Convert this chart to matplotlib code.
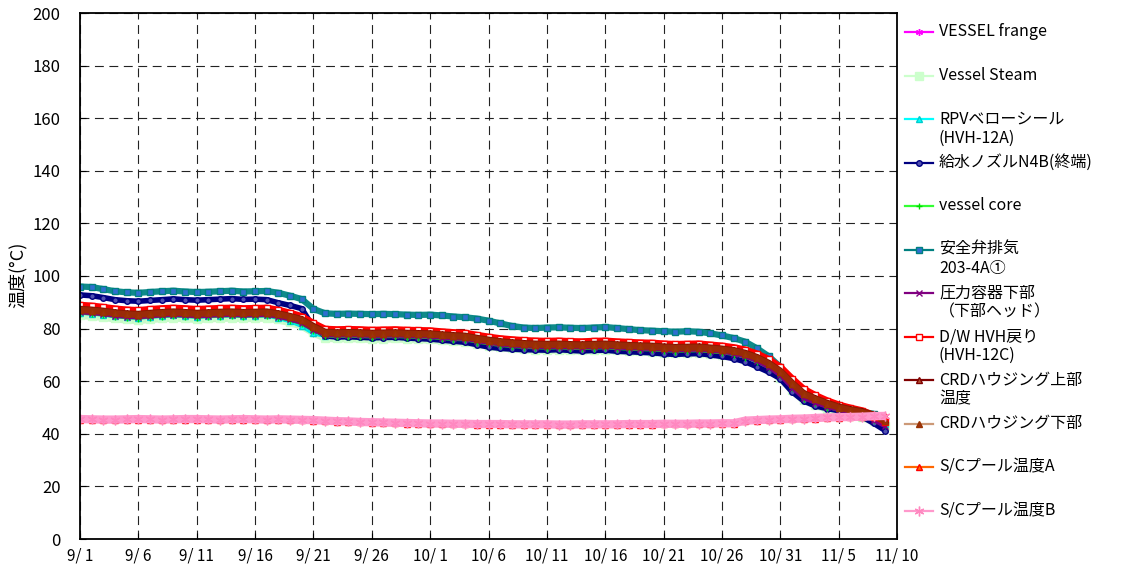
import numpy as np
import matplotlib
matplotlib.use('Agg')
import matplotlib.pyplot as plt
from matplotlib.lines import Line2D

plt.rcParams['font.family'] = ['Noto Sans CJK JP', 'DejaVu Sans']

# 9/1 = day 0, daily readings
x_tick_pos = [0, 5, 10, 15, 20, 25, 30, 35, 40, 45, 50, 55, 60, 65, 70]
x_tick_labels = ['9/ 1', '9/ 6', '9/ 11', '9/ 16', '9/ 21', '9/ 26', '10/ 1', '10/ 6',
                 '10/ 11', '10/ 16', '10/ 21', '10/ 26', '10/ 31', '11/ 5', '11/ 10']
y_ticks = [0, 20, 40, 60, 80, 100, 120, 140, 160, 180, 200]

labels = ['VESSEL frange', 'Vessel Steam', 'RPVベローシール\n(HVH-12A)', '給水ノズルN4B(終端)',
          'vessel core', '安全弁排気\n203-4A①', '圧力容器下部\n（下部ヘッド）', 'D/W HVH戻り\n(HVH-12C)',
          'CRDハウジング上部\n温度', 'CRDハウジング下部', 'S/Cプール温度A', 'S/Cプール温度B']

vessel_frange = [86.7, 86.4, 86.0, 85.4, 85.0, 84.8, 85.2, 85.5, 85.7, 85.5,
                 85.2, 85.4, 85.6, 85.7, 85.5, 85.6, 85.7, 85.0, 84.0, 82.8,
                 80.2, 78.0, 77.8, 77.9, 77.8, 77.6, 77.7, 77.8, 77.6, 77.5,
                 77.4, 77.0, 76.7, 76.5, 75.7, 75.0, 74.4, 74.0, 73.7, 73.5,
                 73.4, 73.5, 73.3, 73.2, 73.4, 73.5, 73.2, 73.0, 72.8, 72.7,
                 72.4, 72.2, 72.3, 72.4, 72.0, 71.6, 71.0, 70.0, 68.4, 66.2,
                 63.2, 58.7, 54.7, 52.7, 51.0, 49.6, 48.6, 47.8, 46.4, 44.4]
vessel_steam = [85.2, 84.9, 84.5, 83.9, 83.5, 83.3, 83.7, 84.0, 84.2, 84.0,
                83.7, 83.9, 84.1, 84.2, 84.0, 84.1, 84.2, 83.5, 82.5, 81.2,
                78.6, 76.6, 76.3, 76.4, 76.3, 76.1, 76.2, 76.3, 76.1, 76.0,
                75.9, 75.5, 75.2, 75.0, 74.2, 73.5, 72.9, 72.5, 72.2, 72.0,
                71.9, 72.0, 71.8, 71.7, 71.9, 72.0, 71.7, 71.5, 71.3, 71.2,
                70.9, 70.7, 70.8, 70.9, 70.5, 70.1, 69.5, 68.5, 66.8, 64.5,
                61.4, 56.8, 52.9, 51.1, 49.6, 48.3, 47.4, 46.4, 44.9, 42.9]
rpv_seal = [86.0, 85.7, 85.3, 84.7, 84.3, 84.1, 84.5, 84.8, 85.0, 84.8,
            84.5, 84.7, 84.9, 85.0, 84.8, 84.9, 85.0, 84.0, 82.8, 81.0,
            78.2, 77.2, 77.1, 77.2, 77.1, 76.9, 77.0, 77.1, 76.9, 76.8,
            76.7, 76.3, 76.0, 75.8, 75.0, 74.3, 73.7, 73.3, 73.0, 72.8,
            72.7, 72.8, 72.6, 72.5, 72.7, 72.8, 72.5, 72.3, 72.1, 72.0,
            71.7, 71.5, 71.6, 71.7, 71.3, 70.9, 70.3, 69.3, 67.6, 65.3,
            62.2, 57.8, 53.9, 52.0, 50.5, 49.3, 48.4, 47.4, 45.8, 43.6]
n4b_nozzle = [92.8, 92.5, 91.8, 91.0, 90.6, 90.4, 90.7, 91.0, 91.3, 91.0,
              90.8, 91.0, 91.2, 91.4, 91.1, 91.2, 91.0, 89.8, 88.8, 87.6,
              80.5, 77.2, 76.8, 76.9, 76.7, 76.5, 76.6, 76.7, 76.4, 76.2,
              76.0, 75.6, 75.2, 74.8, 73.9, 73.0, 72.5, 72.2, 72.0, 71.9,
              71.8, 72.0, 71.7, 71.5, 71.7, 71.8, 71.4, 71.2, 71.0, 70.8,
              70.4, 70.2, 70.4, 70.5, 70.0, 69.4, 68.6, 67.4, 65.5, 63.5,
              61.0, 56.0, 52.5, 50.6, 49.6, 48.8, 48.2, 46.5, 44.0, 41.2]
vessel_core = [85.7, 85.4, 85.0, 84.4, 84.0, 83.8, 84.2, 84.5, 84.7, 84.5,
               84.2, 84.4, 84.6, 84.7, 84.5, 84.6, 84.7, 84.0, 83.0, 81.6,
               79.0, 77.0, 76.8, 76.9, 76.8, 76.6, 76.7, 76.8, 76.6, 76.5,
               76.4, 76.0, 75.7, 75.5, 74.7, 74.0, 73.4, 73.0, 72.7, 72.5,
               72.4, 72.5, 72.3, 72.2, 72.4, 72.5, 72.2, 72.0, 71.8, 71.7,
               71.4, 71.2, 71.3, 71.4, 71.0, 70.6, 70.0, 69.0, 67.3, 65.0,
               61.9, 57.3, 53.4, 51.6, 50.0, 48.7, 47.8, 46.8, 45.3, 43.2]
safety_valve = [96.0, 95.8, 95.0, 94.2, 93.8, 93.6, 93.9, 94.2, 94.4, 94.1,
                93.9, 94.0, 94.2, 94.4, 94.1, 94.2, 94.3, 93.6, 92.5, 91.2,
                87.5, 85.8, 85.6, 85.7, 85.6, 85.5, 85.6, 85.5, 85.3, 85.2,
                85.3, 85.0, 84.6, 84.3, 83.8, 83.0, 82.0, 81.0, 80.4, 80.2,
                80.4, 80.5, 80.3, 80.2, 80.4, 80.6, 80.2, 79.8, 79.4, 79.2,
                79.0, 78.8, 79.0, 78.8, 78.2, 77.4, 76.4, 75.0, 72.5, 69.5,
                65.5, 60.0, 56.5, 54.0, 52.0, 50.4, 49.3, 48.4, 47.6]
pv_lower = [86.2, 85.9, 85.5, 84.9, 84.5, 84.3, 84.7, 85.0, 85.2, 85.0,
            84.7, 84.9, 85.1, 85.2, 85.0, 85.1, 85.2, 84.5, 83.5, 82.2,
            79.6, 77.6, 77.4, 77.5, 77.4, 77.2, 77.3, 77.4, 77.2, 77.1,
            77.0, 76.6, 76.3, 76.1, 75.3, 74.6, 74.0, 73.6, 73.3, 73.1,
            73.0, 73.1, 72.9, 72.8, 73.0, 73.1, 72.8, 72.6, 72.4, 72.3,
            72.0, 71.8, 71.9, 72.0, 71.6, 71.2, 70.5, 69.4, 67.7, 65.3,
            62.2, 57.6, 53.6, 51.8, 50.3, 49.1, 48.2, 47.0, 45.2, 42.8]
dw_hvh = [88.9, 88.6, 88.1, 87.5, 87.1, 86.9, 87.3, 87.6, 87.8, 87.6,
          87.3, 87.5, 87.7, 87.8, 87.6, 87.7, 87.8, 87.0, 85.9, 84.6,
          82.0, 79.8, 79.6, 79.7, 79.6, 79.4, 79.5, 79.6, 79.4, 79.3,
          79.2, 78.8, 78.5, 78.3, 77.5, 76.8, 76.2, 75.8, 75.5, 75.3,
          75.2, 75.3, 75.1, 75.0, 75.2, 75.3, 75.0, 74.8, 74.6, 74.5,
          74.2, 74.0, 74.1, 74.2, 73.8, 73.4, 72.8, 71.9, 70.4, 68.3,
          65.4, 61.0, 57.0, 54.6, 52.6, 51.0, 49.8, 48.8, 47.0, 44.6]
crd_upper = [87.5, 87.2, 86.8, 86.2, 85.8, 85.6, 86.0, 86.3, 86.5, 86.3,
             86.0, 86.2, 86.4, 86.5, 86.3, 86.4, 86.5, 85.8, 84.8, 83.6,
             81.0, 78.8, 78.6, 78.7, 78.6, 78.4, 78.5, 78.6, 78.4, 78.3,
             78.2, 77.8, 77.5, 77.3, 76.5, 75.8, 75.2, 74.8, 74.5, 74.3,
             74.2, 74.3, 74.1, 74.0, 74.2, 74.3, 74.0, 73.8, 73.6, 73.5,
             73.2, 73.0, 73.1, 73.2, 72.8, 72.4, 71.8, 70.8, 69.2, 67.0,
             64.0, 59.5, 55.5, 53.5, 51.8, 50.4, 49.4, 48.6, 47.2, 45.2]
crd_lower = [87.1, 86.8, 86.4, 85.8, 85.4, 85.2, 85.6, 85.9, 86.1, 85.9,
             85.6, 85.8, 86.0, 86.1, 85.9, 86.0, 86.1, 85.4, 84.4, 83.2,
             80.5, 78.4, 78.2, 78.3, 78.2, 78.0, 78.1, 78.2, 78.0, 77.9,
             77.8, 77.4, 77.1, 76.9, 76.1, 75.4, 74.8, 74.4, 74.1, 73.9,
             73.8, 73.9, 73.7, 73.6, 73.8, 73.9, 73.6, 73.4, 73.2, 73.1,
             72.8, 72.6, 72.7, 72.8, 72.4, 72.0, 71.4, 70.4, 68.8, 66.6,
             63.6, 59.1, 55.1, 53.1, 51.4, 50.0, 49.0, 48.2, 46.8, 44.8]
sc_pool_a = [45.4, 45.3, 45.2, 45.2, 45.3, 45.4, 45.3, 45.2, 45.3, 45.4,
             45.4, 45.3, 45.2, 45.3, 45.4, 45.3, 45.2, 45.3, 45.2, 45.1,
             45.0, 44.8, 44.6, 44.5, 44.3, 44.2, 44.1, 44.0, 43.9, 43.8,
             43.7, 43.7, 43.6, 43.6, 43.5, 43.5, 43.5, 43.4, 43.4, 43.4,
             43.4, 43.3, 43.3, 43.4, 43.4, 43.4, 43.4, 43.5, 43.5, 43.5,
             43.6, 43.6, 43.6, 43.7, 43.7, 43.8, 43.8, 44.8, 45.0, 45.2,
             45.3, 45.5, 45.6, 45.8, 46.0, 46.1, 46.2, 46.3, 46.5, 46.6]
sc_pool_b = [45.6, 45.5, 45.4, 45.4, 45.5, 45.6, 45.5, 45.4, 45.5, 45.6,
             45.6, 45.5, 45.4, 45.5, 45.6, 45.5, 45.4, 45.5, 45.4, 45.3,
             45.2, 45.0, 44.8, 44.7, 44.5, 44.4, 44.3, 44.2, 44.1, 44.0,
             43.9, 43.9, 43.8, 43.8, 43.7, 43.7, 43.7, 43.6, 43.6, 43.6,
             43.6, 43.5, 43.5, 43.6, 43.6, 43.6, 43.6, 43.7, 43.7, 43.7,
             43.8, 43.8, 43.8, 43.9, 43.9, 44.0, 44.0, 45.0, 45.2, 45.4,
             45.5, 45.7, 45.8, 46.0, 46.2, 46.3, 46.4, 46.5, 46.7, 46.8]

all_series = [vessel_frange, vessel_steam, rpv_seal, n4b_nozzle, vessel_core, safety_valve,
              pv_lower, dw_hvh, crd_upper, crd_lower, sc_pool_a, sc_pool_b]

# (legend line colour, plot band colour, marker, marker size, face, edge, band width)
styles = [
    ('#FF00FF', '#FF00FF', (6, 2, 0), 5, '#FF00FF', '#FF00FF', 3),
    ('#CCFFCC', '#C8F8C8', 's', 6, '#CCFFCC', '#CCFFCC', 6),
    ('#00FFFF', '#00E8E8', '^', 4, '#00FFFF', '#00CCCC', 3),
    ('#000080', '#000080', 'o', 4, '#5050B0', '#000080', 4),
    ('#33FF33', '#22CC22', '+', 5, '#00DD00', '#00DD00', 1.5),
    ('#008080', '#0E8A8A', 's', 4.5, '#2F6FD0', '#008080', 4.5),
    ('#800080', '#800080', 'x', 4, '#800080', '#800080', 3),
    ('#FF0000', '#FF0000', 's', 4, 'white', '#FF0000', 5),
    ('#800000', '#8B1A00', '^', 4, '#B05030', '#800000', 4.5),
    ('#CC9977', '#9A2A08', '^', 4, '#A03010', '#993300', 4.5),
    ('#FF6600', '#FF6600', '^', 4, '#FF6600', '#FF0000', 3),
    ('#FF99CC', '#FF99CC', (6, 2, 0), 7, '#FF99CC', '#FF88C0', 6),
]

fig = plt.figure(figsize=(11.31, 5.73), dpi=100)
ax = fig.add_axes([80 / 1131, 34 / 573, 817 / 1131, 526 / 573])

for vals, st in zip(all_series, styles):
    lc, bc, m, ms, mfc, mec, bw = st
    x = np.arange(len(vals))
    ax.plot(x, vals, color=bc, lw=bw, solid_capstyle='butt', zorder=2)
    ax.plot(x, vals, ls='none', marker=m, ms=ms, mfc=mfc, mec=mec, mew=1.0, zorder=2)

ax.set_xlim(0, 70)
ax.set_ylim(0, 200)
ax.set_xticks(x_tick_pos)
ax.set_xticklabels(x_tick_labels)
ax.set_yticks(y_ticks)
ax.grid(True, color='#222222', ls=(0, (8, 5)), lw=0.8, zorder=1)
ax.set_axisbelow(True)
for sp in ax.spines.values():
    sp.set_color('black')
    sp.set_linewidth(1.3)
ax.tick_params(axis='x', direction='in', length=4, labelsize=11, pad=6)
ax.tick_params(axis='y', direction='in', length=4, labelsize=12, pad=14)

fig.text(18 / 1131, 1 - 275 / 573, '温度(°C)', rotation=90, ha='center', va='center', fontsize=13)

# legend, drawn by hand to place entries like the original
for i, (lab, st) in enumerate(zip(labels, styles)):
    lc, bc, m, ms, mfc, mec, bw = st
    yp = 1 - (32 + i * 43.5) / 573
    fig.add_artist(Line2D([905 / 1131, 933 / 1131], [yp, yp], transform=fig.transFigure,
                          color=lc, lw=1.6))
    fig.add_artist(Line2D([919 / 1131], [yp], transform=fig.transFigure, ls='none',
                          marker=m, ms=ms, mfc=mfc, mec=mec, mew=1.0))
    for j, line in enumerate(lab.split('\n')):
        fig.text(939 / 1131, yp - j * 19 / 573, line, ha='left', va='center', fontsize=11.5)

fig.savefig('out.png', dpi=100)
